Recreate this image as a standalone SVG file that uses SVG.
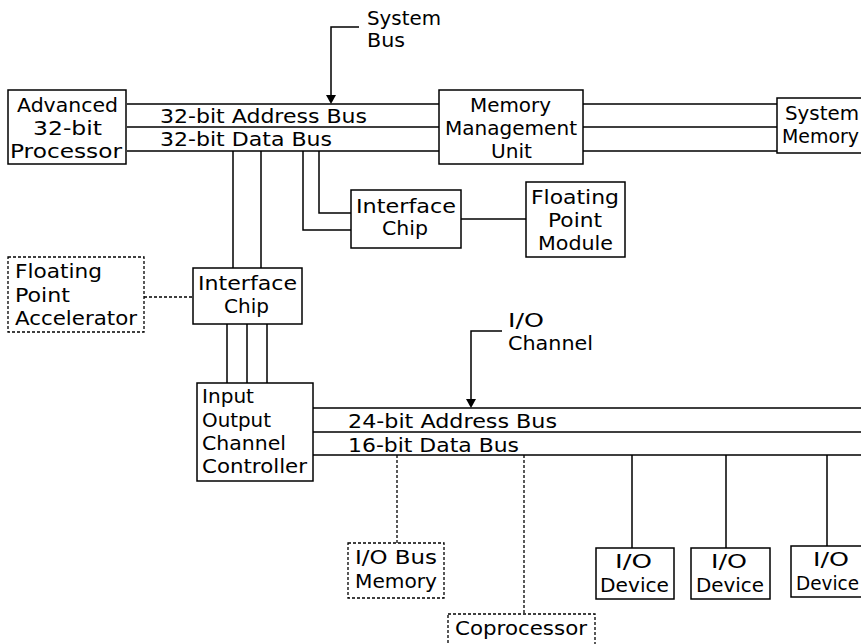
<svg xmlns="http://www.w3.org/2000/svg" width="861" height="644" viewBox="0 0 861 644">
<style>
.box{fill:#fff;stroke:#000;stroke-width:1.5}
.dbox{fill:#fff;stroke:#000;stroke-width:1.3;stroke-dasharray:3 2}
.ln{stroke:#000;stroke-width:1.5;fill:none}
.dl{stroke:#000;stroke-width:1.3;fill:none;stroke-dasharray:3 2}
.ah{fill:#000}
text{font-family:"DejaVu Sans","Liberation Sans",sans-serif;font-size:19px;fill:#000}
</style>
<rect width="861" height="644" fill="#fff"/>
<g id="connectors">
  <path class="ln" d="M127 104H439M127 127H439M127 151H439"/>
  <path class="ln" d="M583 104H777M583 127H777M583 151H777"/>
  <path class="ln" d="M359 27H331V96"/>
  <polygon class="ah" points="326,95 336,95 331,104"/>
  <path class="ln" d="M319 151V213H351M303 151V230H351"/>
  <path class="ln" d="M461 219H526"/>
  <path class="ln" d="M233 151V268M261 151V268"/>
  <path class="dl" d="M144 297H193"/>
  <path class="ln" d="M227 324V383M247 324V383M267 324V383"/>
  <path class="ln" d="M313 408H861M313 432H861M313 455H861"/>
  <path class="ln" d="M502 331H471V400"/>
  <polygon class="ah" points="466,399 476,399 471,408"/>
  <path class="dl" d="M397 455V543"/>
  <path class="dl" d="M524 455V614"/>
  <path class="ln" d="M632 455V548M726 455V548M827 455V546"/>
</g>
<g id="system-bus-label">
  <text x="367" y="25" textLength="74" lengthAdjust="spacingAndGlyphs">System</text>
  <text x="367" y="47" textLength="38" lengthAdjust="spacingAndGlyphs">Bus</text>
</g>
<g id="bus-labels">
  <text x="160" y="123" textLength="207" lengthAdjust="spacingAndGlyphs">32-bit Address Bus</text>
  <text x="160" y="146" textLength="172" lengthAdjust="spacingAndGlyphs">32-bit Data Bus</text>
  <text x="348" y="428" textLength="209" lengthAdjust="spacingAndGlyphs">24-bit Address Bus</text>
  <text x="348" y="452" textLength="171" lengthAdjust="spacingAndGlyphs">16-bit Data Bus</text>
</g>
<g id="io-channel-label">
  <text x="508" y="327" textLength="36" lengthAdjust="spacingAndGlyphs">I/O</text>
  <text x="508" y="350" textLength="85" lengthAdjust="spacingAndGlyphs">Channel</text>
</g>
<g id="processor">
  <rect class="box" x="8" y="90" width="118" height="74"/>
  <text x="17" y="112" textLength="101" lengthAdjust="spacingAndGlyphs">Advanced</text>
  <text x="33" y="135" textLength="69" lengthAdjust="spacingAndGlyphs">32-bit</text>
  <text x="10" y="158" textLength="112" lengthAdjust="spacingAndGlyphs">Processor</text>
</g>
<g id="mmu">
  <rect class="box" x="439" y="90" width="144" height="74"/>
  <text x="470" y="112" textLength="81" lengthAdjust="spacingAndGlyphs">Memory</text>
  <text x="445" y="135" textLength="132" lengthAdjust="spacingAndGlyphs">Management</text>
  <text x="491" y="158" textLength="41" lengthAdjust="spacingAndGlyphs">Unit</text>
</g>
<g id="system-memory">
  <rect class="box" x="777" y="98" width="100" height="55"/>
  <text x="785" y="120" textLength="74" lengthAdjust="spacingAndGlyphs">System</text>
  <text x="782" y="143" textLength="77" lengthAdjust="spacingAndGlyphs">Memory</text>
</g>
<g id="interface-chip-1">
  <rect class="box" x="351" y="190" width="110" height="58"/>
  <text x="356" y="213" textLength="100" lengthAdjust="spacingAndGlyphs">Interface</text>
  <text x="382" y="235" textLength="46" lengthAdjust="spacingAndGlyphs">Chip</text>
</g>
<g id="fp-module">
  <rect class="box" x="526" y="182" width="99" height="75"/>
  <text x="531" y="204" textLength="88" lengthAdjust="spacingAndGlyphs">Floating</text>
  <text x="548" y="227" textLength="54" lengthAdjust="spacingAndGlyphs">Point</text>
  <text x="538" y="250" textLength="75" lengthAdjust="spacingAndGlyphs">Module</text>
</g>
<g id="fp-accelerator">
  <rect class="dbox" x="8" y="257" width="136" height="75"/>
  <text x="15" y="278" textLength="87" lengthAdjust="spacingAndGlyphs">Floating</text>
  <text x="15" y="302" textLength="55" lengthAdjust="spacingAndGlyphs">Point</text>
  <text x="15" y="325" textLength="122" lengthAdjust="spacingAndGlyphs">Accelerator</text>
</g>
<g id="interface-chip-2">
  <rect class="box" x="193" y="268" width="109" height="56"/>
  <text x="198" y="290" textLength="99" lengthAdjust="spacingAndGlyphs">Interface</text>
  <text x="224" y="313" textLength="45" lengthAdjust="spacingAndGlyphs">Chip</text>
</g>
<g id="iocc">
  <rect class="box" x="197" y="383" width="116" height="98"/>
  <text x="202" y="403" textLength="52" lengthAdjust="spacingAndGlyphs">Input</text>
  <text x="202" y="427" textLength="69" lengthAdjust="spacingAndGlyphs">Output</text>
  <text x="202" y="450" textLength="84" lengthAdjust="spacingAndGlyphs">Channel</text>
  <text x="202" y="473" textLength="105" lengthAdjust="spacingAndGlyphs">Controller</text>
</g>
<g id="io-bus-memory">
  <rect class="dbox" x="348" y="543" width="96" height="55"/>
  <text x="355" y="564" textLength="82" lengthAdjust="spacingAndGlyphs">I/O Bus</text>
  <text x="355" y="588" textLength="82" lengthAdjust="spacingAndGlyphs">Memory</text>
</g>
<g id="coprocessor">
  <rect class="dbox" x="448" y="614" width="147" height="50"/>
  <text x="455" y="635" textLength="132" lengthAdjust="spacingAndGlyphs">Coprocessor</text>
</g>
<g id="io-device-1">
  <rect class="box" x="596" y="548" width="78" height="51"/>
  <text x="615" y="568" textLength="37" lengthAdjust="spacingAndGlyphs">I/O</text>
  <text x="600" y="592" textLength="69" lengthAdjust="spacingAndGlyphs">Device</text>
</g>
<g id="io-device-2">
  <rect class="box" x="691" y="548" width="79" height="51"/>
  <text x="711" y="568" textLength="36" lengthAdjust="spacingAndGlyphs">I/O</text>
  <text x="696" y="592" textLength="68" lengthAdjust="spacingAndGlyphs">Device</text>
</g>
<g id="io-device-3">
  <rect class="box" x="791" y="546" width="80" height="51"/>
  <text x="813" y="566" textLength="36" lengthAdjust="spacingAndGlyphs">I/O</text>
  <text x="796" y="590" textLength="63" lengthAdjust="spacingAndGlyphs">Device</text>
</g>
</svg>
